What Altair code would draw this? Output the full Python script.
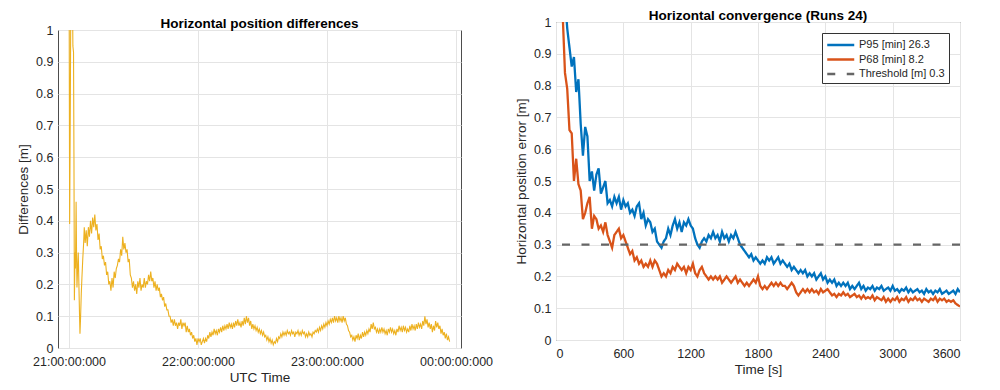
import altair as alt
import pandas as pd

FONT = "Liberation Sans"

# ---------------- Left panel: Horizontal position differences ----------------
left_tick_minutes = [0, 60, 120, 180]
left_tick_labels = ["21:00:00:000", "22:00:00:000", "23:00:00:000", "00:00:00:000"]
y_ticks = [0, 0.1, 0.2, 0.3, 0.4, 0.5, 0.6, 0.7, 0.8, 0.9, 1.0]

# first minutes (irregular samples around the initial spike)
spike_minutes = [0, 0.3, 0.6, 0.9, 1.2, 1.5, 1.8, 2.1, 2.3, 2.5, 2.8, 3.0, 3.3,
                 3.5, 3.7, 4.0, 4.3, 4.6, 4.9, 5.1, 5.4, 5.7, 6.0, 6.4, 6.8, 7.1]
spike_values = [1.3, 0.39, 0.75, 1.2, 1.05, 1.2, 0.95, 0.93, 0.6, 0.15, 0.3, 0.25, 0.46,
                0.3, 0.19, 0.25, 0.3, 0.2, 0.1, 0.045, 0.1, 0.17, 0.22, 0.28, 0.33, 0.38]

# afterwards one sample every half minute, starting at minute 7.5
diff_start = 7.5
diff_step = 0.5
diff_values = [
    0.33, 0.37, 0.32, 0.38, 0.35, 0.40, 0.36, 0.41, 0.38, 0.42,
    0.37, 0.39, 0.34, 0.36, 0.31, 0.32, 0.28, 0.29, 0.26, 0.27,
    0.23, 0.24, 0.20, 0.21, 0.18, 0.22, 0.19, 0.24, 0.22, 0.25,
    0.26, 0.28, 0.27, 0.31, 0.29, 0.35, 0.31, 0.33, 0.30, 0.31,
    0.27, 0.28, 0.23, 0.22, 0.19, 0.21, 0.18, 0.20, 0.17, 0.21,
    0.19, 0.22, 0.18, 0.20, 0.19, 0.22, 0.19, 0.21, 0.20, 0.23,
    0.21, 0.24, 0.21, 0.22, 0.19, 0.21, 0.18, 0.20, 0.18, 0.19,
    0.16, 0.17, 0.15, 0.16, 0.13, 0.14, 0.12, 0.12, 0.10, 0.10,
    0.08, 0.09, 0.07, 0.09, 0.07, 0.08, 0.06, 0.08, 0.07, 0.09,
    0.06, 0.08, 0.07, 0.08, 0.05, 0.07, 0.05, 0.06, 0.04, 0.05,
    0.03, 0.04, 0.02, 0.03, 0.01, 0.03, 0.02, 0.03, 0.01, 0.02,
    0.03, 0.015, 0.03, 0.02, 0.04, 0.03, 0.05, 0.035, 0.05, 0.04,
    0.06, 0.045, 0.055, 0.04, 0.06, 0.05, 0.065, 0.05, 0.07, 0.055,
    0.07, 0.06, 0.075, 0.06, 0.08, 0.065, 0.075, 0.06, 0.08, 0.065,
    0.085, 0.07, 0.09, 0.07, 0.08, 0.065, 0.085, 0.07, 0.095, 0.075,
    0.1, 0.08, 0.095, 0.07, 0.085, 0.06, 0.075, 0.06, 0.07, 0.055,
    0.065, 0.05, 0.06, 0.045, 0.055, 0.04, 0.05, 0.035, 0.04, 0.025,
    0.035, 0.02, 0.03, 0.015, 0.025, 0.01, 0.02, 0.015, 0.03, 0.02,
    0.035, 0.03, 0.045, 0.035, 0.05, 0.04, 0.05, 0.04, 0.055, 0.045,
    0.05, 0.04, 0.055, 0.045, 0.05, 0.035, 0.05, 0.045, 0.055, 0.04,
    0.05, 0.04, 0.055, 0.045, 0.05, 0.035, 0.045, 0.035, 0.05, 0.04,
    0.045, 0.035, 0.05, 0.045, 0.055, 0.05, 0.06, 0.05, 0.065, 0.055,
    0.07, 0.06, 0.075, 0.065, 0.08, 0.07, 0.085, 0.075, 0.09, 0.08,
    0.095, 0.08, 0.1, 0.085, 0.095, 0.08, 0.1, 0.085, 0.095, 0.08,
    0.1, 0.085, 0.095, 0.075, 0.07, 0.055, 0.05, 0.035, 0.04, 0.025,
    0.035, 0.02, 0.04, 0.03, 0.045, 0.025, 0.04, 0.03, 0.05, 0.035,
    0.05, 0.04, 0.055, 0.045, 0.06, 0.05, 0.075, 0.06, 0.08, 0.06,
    0.065, 0.05, 0.06, 0.045, 0.06, 0.05, 0.065, 0.05, 0.06, 0.045,
    0.055, 0.04, 0.06, 0.05, 0.065, 0.05, 0.06, 0.045, 0.055, 0.04,
    0.06, 0.05, 0.07, 0.055, 0.065, 0.05, 0.07, 0.055, 0.065, 0.05,
    0.06, 0.05, 0.07, 0.055, 0.075, 0.06, 0.07, 0.055, 0.075, 0.06,
    0.08, 0.065, 0.075, 0.06, 0.085, 0.07, 0.1, 0.075, 0.09, 0.065,
    0.08, 0.06, 0.075, 0.05, 0.07, 0.055, 0.085, 0.065, 0.08, 0.06,
    0.07, 0.045, 0.06, 0.04, 0.05, 0.03, 0.045, 0.025, 0.035, 0.02,
]

left_minutes = spike_minutes + [diff_start + diff_step * i for i in range(len(diff_values))]
left_df = pd.DataFrame({"minute": left_minutes, "diff": spike_values + diff_values})

label_expr = "[" + ",".join("'" + s + "'" for s in left_tick_labels) + "][round(datum.value / 60)]"

x_axis_style = dict(labelPadding=7, titlePadding=3)

left = alt.Chart(left_df).mark_line(color="#EDB120", strokeWidth=1.1, clip=True).encode(
    x=alt.X("minute:Q",
            scale=alt.Scale(domain=[-5.12, 182.3], nice=False, zero=False),
            axis=alt.Axis(values=left_tick_minutes, labelExpr=label_expr, title="UTC Time",
                          **x_axis_style)),
    y=alt.Y("diff:Q",
            scale=alt.Scale(domain=[0, 1], nice=False),
            axis=alt.Axis(values=y_ticks, format="~g", title="Differences [m]")),
).properties(
    width=403, height=318,
    title=alt.TitleParams("Horizontal position differences", font=FONT, fontSize=13.5,
                          fontWeight="bold", color="#000000", offset=-6),
)

# invisible spacer: with the (negative) spacing it lowers the left panel a little
spacer = alt.Chart(pd.DataFrame({"g": [0]})).mark_rule(opacity=0).encode(
    y=alt.value(0),
).properties(width=10, height=1, view=alt.ViewBackground(stroke="transparent"))

left_cell = alt.vconcat(spacer, left, spacing=-8)

# ---------------- Right panel: Horizontal convergence ----------------
series_names = ["P95 [min] 26.3", "P68 [min] 8.2", "Threshold [m] 0.3"]
series_colors = ["#0072BD", "#D95319", "#666666"]
threshold = [0.3]
time_ticks = [0, 600, 1200, 1800, 2400, 3000, 3600]

conv_start = 40
conv_step = 20
p95_values = [
    1.3, 1.2, 1.08, 0.98, 0.92, 0.86, 0.89, 0.78, 0.82, 0.68,
    0.58, 0.67, 0.64, 0.50, 0.53, 0.47, 0.52, 0.54, 0.46, 0.48,
    0.50, 0.43, 0.44, 0.42, 0.45, 0.43, 0.45, 0.41, 0.44, 0.42,
    0.43, 0.40, 0.41, 0.39, 0.42, 0.43, 0.38, 0.40, 0.36, 0.38,
    0.37, 0.34, 0.35, 0.31, 0.30, 0.29, 0.31, 0.32, 0.35, 0.33,
    0.36, 0.38, 0.35, 0.37, 0.34, 0.37, 0.36, 0.38, 0.36, 0.35,
    0.32, 0.30, 0.29, 0.31, 0.32, 0.31, 0.33, 0.32, 0.34, 0.32,
    0.33, 0.31, 0.34, 0.32, 0.33, 0.31, 0.33, 0.32, 0.34, 0.32,
    0.30, 0.29, 0.28, 0.27, 0.26, 0.27, 0.25, 0.26, 0.25, 0.24,
    0.25, 0.24, 0.26, 0.25, 0.26, 0.24, 0.25, 0.26, 0.24, 0.25,
    0.24, 0.23, 0.24, 0.22, 0.23, 0.22, 0.21, 0.22, 0.21, 0.22,
    0.20, 0.21, 0.20, 0.21, 0.19, 0.20, 0.21, 0.19, 0.20, 0.18,
    0.19, 0.18, 0.19, 0.17, 0.18, 0.17, 0.18, 0.17, 0.18, 0.16,
    0.17, 0.16, 0.17, 0.18, 0.16, 0.17, 0.155, 0.165, 0.16, 0.17,
    0.155, 0.165, 0.16, 0.17, 0.155, 0.16, 0.165, 0.155, 0.17, 0.155,
    0.16, 0.15, 0.16, 0.155, 0.165, 0.15, 0.16, 0.15, 0.155, 0.16,
    0.15, 0.155, 0.145, 0.16, 0.15, 0.155, 0.145, 0.155, 0.15, 0.16,
    0.145, 0.15, 0.155, 0.145, 0.15, 0.155, 0.145, 0.16, 0.15,
]
p68_values = [
    1.4, 1.02, 0.84, 0.79, 0.66, 0.65, 0.50, 0.57, 0.49, 0.47,
    0.38, 0.40, 0.43, 0.45, 0.35, 0.39, 0.38, 0.35, 0.36, 0.34,
    0.37, 0.33, 0.31, 0.29, 0.33, 0.34, 0.35, 0.32, 0.33, 0.31,
    0.29, 0.27, 0.28, 0.25, 0.26, 0.24, 0.25, 0.23, 0.24, 0.23,
    0.25, 0.23, 0.25, 0.24, 0.22, 0.20, 0.21, 0.20, 0.22, 0.21,
    0.23, 0.22, 0.24, 0.23, 0.22, 0.23, 0.21, 0.23, 0.22, 0.24,
    0.21, 0.20, 0.22, 0.23, 0.21, 0.20, 0.19, 0.20, 0.19, 0.20,
    0.19, 0.20, 0.18, 0.19, 0.20, 0.19, 0.18, 0.19, 0.20, 0.18,
    0.19, 0.18, 0.17, 0.18, 0.17, 0.18, 0.19, 0.18, 0.20, 0.17,
    0.16, 0.17, 0.16, 0.17, 0.18, 0.17, 0.18, 0.17, 0.18, 0.17,
    0.17, 0.16, 0.17, 0.18, 0.17, 0.15, 0.14, 0.15, 0.16, 0.15,
    0.16, 0.15, 0.16, 0.15, 0.155, 0.145, 0.16, 0.15, 0.155, 0.16,
    0.15, 0.14, 0.145, 0.135, 0.145, 0.14, 0.15, 0.14, 0.145, 0.135,
    0.14, 0.145, 0.135, 0.14, 0.13, 0.14, 0.13, 0.135, 0.13, 0.14,
    0.125, 0.135, 0.13, 0.125, 0.135, 0.12, 0.13, 0.12, 0.13, 0.125,
    0.135, 0.12, 0.13, 0.125, 0.135, 0.12, 0.13, 0.125, 0.135, 0.125,
    0.13, 0.12, 0.13, 0.125, 0.12, 0.13, 0.125, 0.135, 0.12, 0.13,
    0.125, 0.13, 0.12, 0.125, 0.12, 0.125, 0.115, 0.11, 0.105,
]
assert len(p95_values) == len(p68_values)
conv_times = [conv_start + conv_step * i for i in range(len(p95_values))]

conv_df = pd.DataFrame({
    "t": conv_times * 2,
    "err": p95_values + p68_values,
    "series": [series_names[0]] * len(conv_times) + [series_names[1]] * len(conv_times),
})
thr_df = pd.DataFrame({"err": threshold, "series": [series_names[2]]})

legend = alt.Legend(title=None, orient="top-right", offset=11)
color_enc = alt.Color("series:N",
                      scale=alt.Scale(domain=series_names, range=series_colors),
                      legend=legend)
dash_enc = alt.StrokeDash("series:N",
                          scale=alt.Scale(domain=series_names, range=[[1, 0], [1, 0], [8, 11.5]]),
                          legend=legend)

x_conv = alt.X("t:Q", scale=alt.Scale(domain=[0, 3600], nice=False),
               axis=alt.Axis(values=time_ticks, format="d", title="Time [s]", **x_axis_style))
y_conv = alt.Y("err:Q", scale=alt.Scale(domain=[0, 1], nice=False),
               axis=alt.Axis(values=y_ticks, format="~g", title="Horizontal position error [m]"))

conv_lines = alt.Chart(conv_df).mark_line(strokeWidth=2.3, clip=True).encode(
    x=x_conv, y=y_conv, color=color_enc, strokeDash=dash_enc,
)
thr_rule = alt.Chart(thr_df).mark_rule(strokeWidth=2.3).encode(
    y=y_conv, color=color_enc, strokeDash=dash_enc,
)

right = alt.layer(conv_lines, thr_rule).properties(
    width=404, height=318,
    title=alt.TitleParams("Horizontal convergence (Runs 24)", font=FONT, fontSize=13.5,
                          fontWeight="bold", color="#000000", offset=-6),
)

chart = alt.hconcat(left_cell, right, spacing=20).resolve_scale(
    color="independent", strokeDash="independent",
).properties(
    padding={"left": 8, "top": 0, "right": 5, "bottom": 0},
    background="white",
).configure_view(
    stroke="#4d4d4d", strokeWidth=1,
).configure_axis(
    labelFont=FONT, titleFont=FONT, labelFontSize=12.5, titleFontSize=13.5,
    titleFontWeight="normal", labelColor="#262626", titleColor="#262626",
    gridColor="#e4e4e4", gridWidth=1, domain=False, ticks=False,
    labelPadding=5, titlePadding=5, labelOverlap=False,
).configure_legend(
    labelFont=FONT, labelFontSize=11, labelColor="#262626",
    fillColor="white", strokeColor="#333333", padding=4,
    symbolType="M-1,0H3", symbolSize=182, symbolStrokeWidth=2.3,
    labelOffset=17, rowPadding=1.5, cornerRadius=0,
)

chart.save("out.html", embed_options={"renderer": "svg", "actions": False})
